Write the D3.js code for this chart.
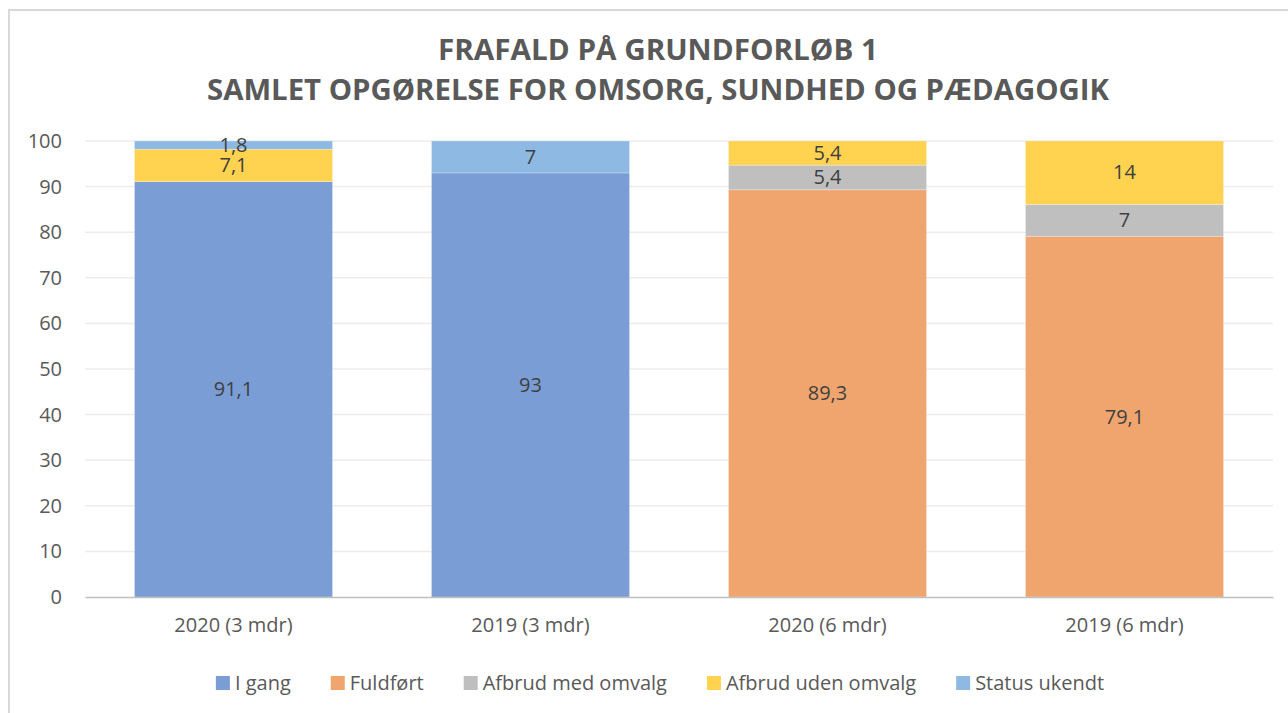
<!DOCTYPE html>
<html lang="da">
<head>
<meta charset="utf-8">
<title>Frafald på grundforløb 1</title>
<script src="https://d3js.org/d3.v7.min.js"></script>
<style>
  body { margin: 0; background: #fff; font-family: "Open Sans", sans-serif; }
</style>
</head>
<body>
<div id="chart"></div>
<script>
// data
var categories = ["2020 (3 mdr)", "2019 (3 mdr)", "2020 (6 mdr)", "2019 (6 mdr)"];
var seriesNames = ["I gang", "Fuldført", "Afbrud med omvalg", "Afbrud uden omvalg", "Status ukendt"];
var iGang            = [91.1, 93,   null, null];
var fuldfort         = [null, null, 89.3, 79.1];
var afbrudMedOmvalg  = [null, null, 5.4,  7];
var afbrudUdenOmvalg = [7.1,  null, 5.4,  14];
var statusUkendt     = [1.8,  7,    null, null];
var yTicks = [0, 10, 20, 30, 40, 50, 60, 70, 80, 90, 100];
var colors = ["#7b9dd5", "#f1a56e", "#bfbfbf", "#ffd34f", "#8db9e3"];

var seriesValues = [iGang, fuldfort, afbrudMedOmvalg, afbrudUdenOmvalg, statusUkendt];

var W = 1288, H = 713;
var margin = {top: 141, right: 15, bottom: 116, left: 85};
var width = W - margin.left - margin.right,
    height = H - margin.top - margin.bottom;
var fs = 20;

var svg = d3.select("#chart").append("svg")
    .attr("width", W).attr("height", H);

// chart frame
svg.append("rect")
    .attr("x", 9).attr("y", 10)
    .attr("width", W + 20).attr("height", H + 20)
    .attr("fill", "none")
    .attr("stroke", "#d9d9d9")
    .attr("stroke-width", 2);

// title
var titleLines = ["FRAFALD PÅ GRUNDFORLØB 1", "SAMLET OPGØRELSE FOR OMSORG, SUNDHED OG PÆDAGOGIK"];
var titleWidths = [440, 902];
svg.append("g").selectAll("text")
  .data(titleLines)
  .enter().append("text")
    .attr("x", 658)
    .attr("y", function (d, i) { return 60 + i * 40; })
    .attr("text-anchor", "middle")
    .attr("font-size", 29)
    .attr("font-weight", "bold")
    .attr("fill", "#595959")
    .attr("textLength", function (d, i) { return titleWidths[i]; })
    .attr("lengthAdjust", "spacingAndGlyphs")
    .text(function (d) { return d; });

var g = svg.append("g")
    .attr("transform", "translate(" + margin.left + "," + margin.top + ")");

var x = d3.scaleBand()
    .domain(categories)
    .range([0, width])
    .paddingInner(1 / 3)
    .paddingOuter(1 / 6);

var y = d3.scaleLinear()
    .domain([0, 100])
    .range([height, 0]);

// gridlines
g.append("g")
  .selectAll("line")
  .data(yTicks.slice(1))
  .enter().append("line")
    .attr("x1", 0).attr("x2", width)
    .attr("y1", function (d) { return y(d); })
    .attr("y2", function (d) { return y(d); })
    .attr("stroke", "#ececec")
    .attr("stroke-width", 1.5);

// y axis labels
var yAxis = g.append("g")
    .call(d3.axisLeft(y).tickValues(yTicks).tickSize(0).tickPadding(23));
yAxis.select(".domain").remove();
yAxis.selectAll("text")
    .attr("font-family", "Open Sans, sans-serif")
    .attr("font-size", fs)
    .attr("fill", "#595959");

// stack the series
var rows = categories.map(function (c, i) {
  var r = {cat: c};
  seriesNames.forEach(function (s, k) { r[s] = seriesValues[k][i] || 0; });
  return r;
});
var stacked = d3.stack().keys(seriesNames)(rows);

svg.append("clipPath").attr("id", "plotclip")
  .append("rect").attr("width", width).attr("height", height);

var bars = g.append("g").attr("clip-path", "url(#plotclip)");
var layers = bars.selectAll("g.layer")
  .data(stacked)
  .enter().append("g")
    .attr("class", "layer")
    .attr("fill", function (d, i) { return colors[i]; });

layers.selectAll("rect")
  .data(function (d) { return d.filter(function (p) { return p[1] - p[0] > 0; }); })
  .enter().append("rect")
    .attr("x", function (d) { return x(d.data.cat); })
    .attr("width", x.bandwidth())
    .attr("y", function (d) { return y(Math.min(d[1], 100)); })
    .attr("height", function (d) { return y(d[0]) - y(Math.min(d[1], 100)); })
    .attr("stroke", "rgba(255,255,255,0.3)")
    .attr("stroke-width", 0.8);

// data labels
var labels = g.append("g");
stacked.forEach(function (layer) {
  layer.forEach(function (p) {
    var v = p[1] - p[0];
    if (v <= 0) return;
    labels.append("text")
      .attr("x", x(p.data.cat) + x.bandwidth() / 2)
      .attr("y", y((p[0] + p[1]) / 2))
      .attr("dy", "0.35em")
      .attr("text-anchor", "middle")
      .attr("font-size", fs)
      .attr("fill", "#404040")
      .text(d3.format(".1~f")(Math.round(v * 10) / 10).replace(".", ","));
  });
});

// x axis
var xAxis = g.append("g")
    .attr("transform", "translate(0," + height + ")")
    .call(d3.axisBottom(x).tickSize(0).tickPadding(21));
xAxis.select(".domain")
    .attr("stroke", "#bfbfbf")
    .attr("stroke-width", 1.5);
xAxis.selectAll("text")
    .attr("font-family", "Open Sans, sans-serif")
    .attr("font-size", fs)
    .attr("fill", "#595959");

// legend
var legend = svg.append("g").attr("transform", "translate(0,683)");
var items = legend.selectAll("g")
  .data(seriesNames)
  .enter().append("g");
items.append("rect")
    .attr("width", 14).attr("height", 14)
    .attr("y", -7)
    .attr("fill", function (d, i) { return colors[i]; });
items.append("text")
    .attr("x", 19)
    .attr("dy", "0.35em")
    .attr("font-size", fs)
    .attr("fill", "#595959")
    .text(function (d) { return d; });
var gap = 40, total = 0, widths = [];
items.each(function () {
  var w = 19 + d3.select(this).select("text").node().getComputedTextLength();
  widths.push(w);
  total += w;
});
total += gap * (seriesNames.length - 1);
var cx = 660 - total / 2;
items.attr("transform", function (d, i) {
  var pos = cx;
  cx += widths[i] + gap;
  return "translate(" + pos + ",0)";
});
</script>
</body>
</html>
